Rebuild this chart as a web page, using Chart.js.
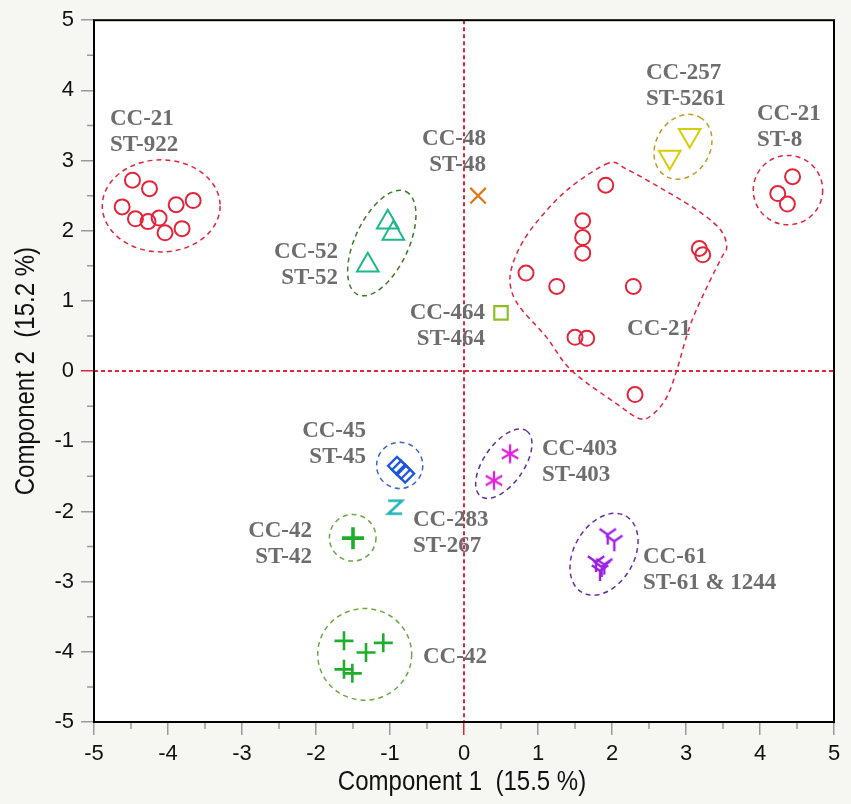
<!DOCTYPE html>
<html><head><meta charset="utf-8">
<script src="https://cdn.jsdelivr.net/npm/chart.js@4.4.0/dist/chart.umd.min.js"></script>
<style>html,body{margin:0;padding:0;background:#f6f6f2;overflow:hidden}</style>
</head><body>
<canvas id="c" width="851" height="804" style="display:block;width:851px;height:804px"></canvas>
<script>
// ---------- data ----------
const xTickValues = [-5,-4,-3,-2,-1,0,1,2,3,4,5];
const yTickValues = [-5,-4,-3,-2,-1,0,1,2,3,4,5];
const xTitle = 'Component 1  (15.5 %)';
const yTitle = 'Component 2  (15.2 %)';

const st922X = [-4.48,-4.25,-4.62,-4.44,-4.27,-4.12,-4.04,-3.81,-3.89,-3.66];
const st922Y = [2.72,2.60,2.34,2.17,2.13,2.18,1.97,2.03,2.37,2.43];
const cc52X = [-1.03,-0.955,-1.30];
const cc52Y = [2.12,1.96,1.51];
const cc48X = [0.19];
const cc48Y = [2.50];
const cc464X = [0.50];
const cc464Y = [0.83];
const cc257X = [3.05,2.78];
const cc257Y = [3.36,3.05];
const st8X = [4.44,4.24,4.37];
const st8Y = [2.77,2.53,2.38];
const cc21X = [1.915,1.604,1.604,1.604,3.18,3.226,0.838,1.253,2.288,1.50,1.658,2.311];
const cc21Y = [2.649,2.141,1.903,1.681,1.747,1.657,1.397,1.206,1.206,0.481,0.467,-0.334];
const cc45X = [-0.905,-0.85,-0.795];
const cc45Y = [-1.35,-1.405,-1.46];
const cc283X = [-0.93];
const cc283Y = [-1.94];
const st42X = [-1.50];
const st42Y = [-2.38];
const cc42X = [-1.622,-1.324,-1.091,-1.622,-1.509];
const cc42Y = [-3.844,-4.009,-3.872,-4.25,-4.307];
const cc403X = [0.622,0.405];
const cc403Y = [-1.178,-1.558];
const cc61X = [1.942,2.031,1.784,1.861,1.896,1.838];
const cc61Y = [-2.33,-2.425,-2.72,-2.791,-2.757,-2.848];

// group outlines (centre in data units, semi-axes in x-axis units, tilt in degrees)
const ellipses = [
  {cx:-4.092, cy:2.354, a:0.796, b:0.622, rot:0,  color:'#e3243a'},
  {cx:-1.111, cy:1.825, a:0.769, b:0.362, rot:65, color:'#3f7a2c'},
  {cx:2.959,  cy:3.196, a:0.46,  b:0.366, rot:60, color:'#c49a26'},
  {cx:4.378,  cy:2.579, a:0.469, b:0.469, rot:0,  color:'#e3243a'},
  {cx:-0.869, cy:-1.344,a:0.312, b:0.312, rot:0,  color:'#3a66cc'},
  {cx:-1.504, cy:-2.375,a:0.315, b:0.315, rot:0,  color:'#6ea844'},
  {cx:-1.342, cy:-4.036,a:0.635, b:0.619, rot:0,  color:'#6ea844'},
  {cx:0.538,  cy:-1.32, a:0.54,  b:0.27,  rot:55, color:'#6030a0'},
  {cx:1.892,  cy:-2.61, a:0.595, b:0.405, rot:60, color:'#6c2cae'}
];
const outlineX = [1.95,1.432,1.072,0.801,0.645,0.631,0.757,1.108,1.455,2.064,2.378,2.558,2.739,2.874,3.054,3.28,3.482,3.55,3.504,3.369,3.099,2.649,2.199];
const outlineY = [2.962,2.614,2.236,1.856,1.477,1.192,0.908,0.491,0.007,-0.467,-0.68,-0.609,-0.373,0.007,0.647,1.192,1.619,1.761,1.952,2.117,2.33,2.614,2.876];

const groupLabels = [
  {lines:['CC-21','ST-922'], x:-4.784, y:3.62, align:'left'},
  {lines:['CC-48','ST-48'], x:0.297, y:3.336, align:'right'},
  {lines:['CC-52','ST-52'], x:-1.703, y:1.728, align:'right'},
  {lines:['CC-464','ST-464'], x:0.284, y:0.861, align:'right'},
  {lines:['CC-257','ST-5261'], x:2.459, y:4.275, align:'left'},
  {lines:['CC-21','ST-8'], x:3.959, y:3.691, align:'left'},
  {lines:['CC-21'], x:2.203, y:0.633, align:'left'},
  {lines:['CC-45','ST-45'], x:-1.324, y:-0.832, align:'right'},
  {lines:['CC-283','ST-267'], x:-0.689, y:-2.099, align:'left'},
  {lines:['CC-42','ST-42'], x:-2.054, y:-2.255, align:'right'},
  {lines:['CC-42'], x:-0.554, y:-4.047, align:'left'},
  {lines:['CC-403','ST-403'], x:1.054, y:-1.088, align:'left'},
  {lines:['CC-61','ST-61 & 1244'], x:2.419, y:-2.625, align:'left'}
];

// ---------- custom marker glyphs ----------
function glyph(size, color, lw, draw){
  const c = document.createElement('canvas');
  c.width = size; c.height = size;
  const g = c.getContext('2d');
  g.strokeStyle = color; g.lineWidth = lw; g.lineCap = 'butt'; g.lineJoin='miter';
  g.translate(size/2, size/2);
  g.beginPath(); draw(g); g.stroke();
  return c;
}
const zGlyph = glyph(20, '#20b4b4', 2.6, g=>{ g.moveTo(-7,-6.5); g.lineTo(7,-6.5); g.lineTo(-7,6.5); g.lineTo(7,6.5); });
const starGlyph = glyph(24, '#e020dc', 2.3, g=>{
  for (const ang of [90,30,150]) { const r=9.5, t=ang*Math.PI/180; g.moveTo(-r*Math.cos(t), -r*Math.sin(t)); g.lineTo(r*Math.cos(t), r*Math.sin(t)); }
});
const yGlyph = glyph(24, '#9a22e6', 2.4, g=>{
  const r=10, s=Math.sin(55*Math.PI/180), c=Math.cos(55*Math.PI/180);
  g.moveTo(0,0); g.lineTo(0,r); g.moveTo(0,0); g.lineTo(-s*r,-c*r); g.moveTo(0,0); g.lineTo(s*r,-c*r);
});

function pts(xs, ys){ return xs.map((x,i)=>({x, y:ys[i]})); }
function ds(xs, ys, style, color, radius, lw, rot){
  return {data:pts(xs,ys), pointStyle:style, pointRadius:radius, pointHoverRadius:radius,
    borderColor:color, backgroundColor:'rgba(0,0,0,0)', pointBorderWidth:lw, borderWidth:lw,
    pointRotation:rot||0, showLine:false};
}

const datasets = [
  ds(st922X, st922Y, 'circle', '#e3243a', 7.5, 2),
  ds(st8X, st8Y, 'circle', '#e3243a', 7.5, 2),
  ds(cc21X, cc21Y, 'circle', '#e3243a', 7.5, 2),
  ds(cc52X, cc52Y, 'triangle', '#1fb88c', 12.5, 2),
  ds(cc48X, cc48Y, 'crossRot', '#e07818', 11, 2.2),
  ds(cc464X, cc464Y, 'rect', '#8cbf28', 9.5, 2.2),
  ds(cc257X, cc257Y, 'triangle', '#d6ce08', 12.5, 2, 180),
  ds(cc45X, cc45Y, 'rectRot', '#1f55e6', 9, 2.3),
  ds(cc283X, cc283Y, zGlyph, '#20b4b4', 8, 1),
  ds(st42X, st42Y, 'cross', '#1fae2a', 11, 3.6),
  ds(cc42X, cc42Y, 'cross', '#1fae2a', 9.5, 2.6),
  ds(cc403X, cc403Y, starGlyph, '#e020dc', 9, 1),
  ds(cc61X, cc61Y, yGlyph, '#9a22e6', 9, 1)
];

const RED = '#e3243a';
const decor = {
  id:'decor',
  beforeDraw(chart){
    const {ctx, chartArea:a} = chart;
    ctx.save();
    ctx.fillStyle = '#f6f6f2'; ctx.fillRect(0,0,chart.width,chart.height);
    ctx.fillStyle = '#ffffff'; ctx.fillRect(a.left,a.top,a.right-a.left,a.bottom-a.top);
    ctx.restore();
  },
  beforeDatasetsDraw(chart){
    const {ctx, chartArea:a, scales:{x,y}} = chart;
    const ux = x.getPixelForValue(1) - x.getPixelForValue(0);
    ctx.save();
    // zero lines
    ctx.strokeStyle = RED; ctx.lineWidth = 2; ctx.setLineDash([4,3]);
    const x0 = x.getPixelForValue(0), y0 = y.getPixelForValue(0);
    ctx.beginPath(); ctx.moveTo(x0,a.top); ctx.lineTo(x0,a.bottom); ctx.stroke();
    ctx.beginPath(); ctx.moveTo(a.left,y0); ctx.lineTo(a.right,y0); ctx.stroke();
    // ellipses
    ctx.lineWidth = 1.5; ctx.setLineDash([5,4]);
    for (const e of ellipses){
      ctx.strokeStyle = e.color;
      ctx.beginPath();
      ctx.ellipse(x.getPixelForValue(e.cx), y.getPixelForValue(e.cy), e.a*ux, e.b*ux, -e.rot*Math.PI/180, 0, Math.PI*2);
      ctx.stroke();
    }
    // CC-21 outline (closed Catmull-Rom)
    const P = outlineX.map((v,i)=>[x.getPixelForValue(v), y.getPixelForValue(outlineY[i])]);
    const n = P.length;
    ctx.strokeStyle = RED;
    ctx.beginPath(); ctx.moveTo(P[0][0],P[0][1]);
    for (let i=0;i<n;i++){
      const p0=P[(i-1+n)%n], p1=P[i], p2=P[(i+1)%n], p3=P[(i+2)%n];
      ctx.bezierCurveTo(p1[0]+(p2[0]-p0[0])/6, p1[1]+(p2[1]-p0[1])/6, p2[0]-(p3[0]-p1[0])/6, p2[1]-(p3[1]-p1[1])/6, p2[0], p2[1]);
    }
    ctx.closePath(); ctx.stroke();
    ctx.restore();
  },
  afterDatasetsDraw(chart){
    const {ctx, chartArea:a, scales:{x,y}} = chart;
    ctx.save();
    // labels
    ctx.fillStyle = '#6d6d6d';
    ctx.font = 'bold 23px "Liberation Serif", "DejaVu Serif", serif';
    ctx.textBaseline = 'alphabetic';
    for (const L of groupLabels){
      ctx.textAlign = L.align;
      const px = x.getPixelForValue(L.x), py = y.getPixelForValue(L.y);
      L.lines.forEach((t,i)=> ctx.fillText(t, px, py + 8 + i*26));
    }
    // frame
    ctx.strokeStyle = '#000'; ctx.lineWidth = 2; ctx.setLineDash([]);
    ctx.strokeRect(a.left, a.top, a.right-a.left, a.bottom-a.top);
    // minor ticks
    ctx.strokeStyle = '#9a9a9a'; ctx.lineWidth = 1.5;
    ctx.beginPath();
    for (let v=-4.5; v<5; v+=1){
      const px = x.getPixelForValue(v); ctx.moveTo(px, a.bottom+1); ctx.lineTo(px, a.bottom+7);
      const py = y.getPixelForValue(v); ctx.moveTo(a.left-1, py); ctx.lineTo(a.left-7, py);
    }
    ctx.stroke();
    // axis titles
    ctx.fillStyle = '#111';
    ctx.font = '27px "Liberation Sans", Arial, sans-serif';
    ctx.textAlign = 'center';
    ctx.save();
    ctx.translate((a.left+a.right)/2 - 2, 790); ctx.scale(0.89,1);
    ctx.fillText(xTitle, 0, 0);
    ctx.restore();
    ctx.save();
    ctx.translate(34, (a.top+a.bottom)/2); ctx.rotate(-Math.PI/2); ctx.scale(0.89,1);
    ctx.fillText(yTitle, 0, 0);
    ctx.restore();
    ctx.restore();
  }
};

const tickFont = {family:'"Liberation Sans", Arial, sans-serif', size:22};
function tickColor(c){ return c.tick && c.tick.value === 0 ? RED : '#9a9a9a'; }

new Chart(document.getElementById('c'), {
  type:'scatter',
  data:{datasets},
  options:{
    responsive:false, animation:false, events:[],
    layout:{padding:{left:0, top:19, right:17, bottom:0}},
    plugins:{legend:{display:false}, tooltip:{enabled:false}},
    scales:{
      x:{type:'linear', min:-5, max:5,
        afterFit(s){ s.height = 82; },
        afterBuildTicks(s){ s.ticks = xTickValues.map(v=>({value:v})); },
        ticks:{font:tickFont, color:'#111', padding:6, maxRotation:0, autoSkip:false, callback:v=>String(v)},
        grid:{drawOnChartArea:false, drawTicks:true, tickLength:13, color:tickColor, lineWidth:1.5},
        border:{display:false}},
      y:{type:'linear', min:-5, max:5,
        afterFit(s){ s.width = 94; },
        afterBuildTicks(s){ s.ticks = yTickValues.map(v=>({value:v})); },
        ticks:{font:tickFont, color:'#111', padding:7, autoSkip:false, callback:v=>String(v)},
        grid:{drawOnChartArea:false, drawTicks:true, tickLength:13, color:tickColor, lineWidth:1.5},
        border:{display:false}}
    }
  },
  plugins:[decor]
});
</script>
</body></html>
